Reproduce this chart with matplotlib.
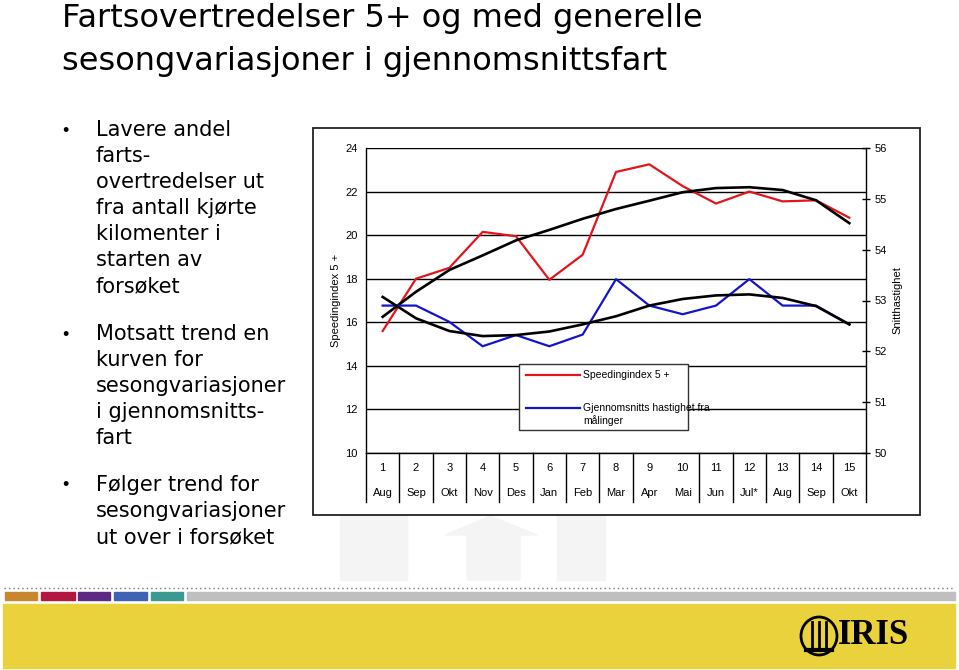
import matplotlib
matplotlib.use("Agg")
import matplotlib.pyplot as plt
from matplotlib.patches import Rectangle, Ellipse, Polygon
from matplotlib.lines import Line2D
import matplotlib.transforms as mtransforms

plt.rcParams['font.family'] = ['Liberation Sans', 'DejaVu Sans']

# data
periods = ['1', '2', '3', '4', '5', '6', '7', '8', '9', '10', '11', '12', '13', '14', '15']
months = ['Aug', 'Sep', 'Okt', 'Nov', 'Des', 'Jan', 'Feb', 'Mar', 'Apr', 'Mai',
          'Jun', 'Jul*', 'Aug', 'Sep', 'Okt']
speeding = [15.6, 18.0, 18.5, 20.15, 19.95, 17.95, 19.1, 22.9, 23.25, 22.25,
            21.45, 22.0, 21.55, 21.6, 20.8]
avg_speed = [52.9, 52.9, 52.58, 52.1, 52.32, 52.1, 52.33, 53.42, 52.9, 52.73,
             52.9, 53.42, 52.9, 52.9, 52.53]
# polynomial trend lines as drawn in the chart (value at each period)
speeding_trend = [16.25, 17.4, 18.4, 19.07, 19.76, 20.24, 20.75, 21.2, 21.58,
                  21.97, 22.16, 22.2, 22.07, 21.6, 20.55]
avg_speed_trend = [53.07, 52.65, 52.4, 52.3, 52.32, 52.39, 52.53, 52.69, 52.9,
                   53.03, 53.1, 53.12, 53.05, 52.89, 52.53]

W, H = 959, 670


def fx(x):
    return x / W


def fy(y):
    return 1 - y / H


fig = plt.figure(figsize=(W / 100, H / 100), dpi=100)
fig.patch.set_facecolor('white')

# title
title_lines = ["Fartsovertredelser 5+ og med generelle",
               "sesongvariasjoner i gjennomsnittsfart"]
for i, line in enumerate(title_lines):
    fig.text(fx(62), fy(27 + i * 43), line, fontsize=23, va='baseline', ha='left',
             family='DejaVu Sans')

# bullets
bullets = [
    (130, ["Lavere andel", "farts-", "overtredelser ut", "fra antall kjørte",
           "kilomenter i", "starten av", "forsøket"]),
    (334, ["Motsatt trend en", "kurven for", "sesongvariasjoner",
           "i gjennomsnitts-", "fart"]),
    (485, ["Følger trend for", "sesongvariasjoner", "ut over i forsøket"]),
]
for y0, lines in bullets:
    fig.text(fx(62), fy(y0 + 1), "•", fontsize=13, va='center', ha='left')
    for j, line in enumerate(lines):
        fig.text(fx(96), fy(y0 + 26 * j), line, fontsize=15, va='center', ha='left',
                 family='DejaVu Sans')

# faint watermark shapes below the chart
wm = '#f4f4f4'
fig.add_artist(Rectangle((fx(340), fy(580)), fx(407) - fx(340), fy(516) - fy(580),
                         transform=fig.transFigure, color=wm, zorder=-2))
fig.add_artist(Polygon([(fx(445), fy(535)), (fx(490), fy(516)), (fx(537), fy(535)),
                        (fx(520), fy(535)), (fx(520), fy(580)), (fx(467), fy(580)),
                        (fx(467), fy(535))],
                       transform=fig.transFigure, color=wm, zorder=-2))
fig.add_artist(Rectangle((fx(557), fy(580)), fx(605) - fx(557), fy(516) - fy(580),
                         transform=fig.transFigure, color=wm, zorder=-2))

# chart frame
fig.add_artist(Rectangle((fx(313), fy(515)), fx(920) - fx(313), fy(128) - fy(515),
                         transform=fig.transFigure, facecolor='white',
                         edgecolor='#222222', lw=1.3, zorder=-1))

ax = fig.add_axes([fx(366), fy(453), fx(866) - fx(366), fy(148) - fy(453)])
ax.set_facecolor('none')
x = list(range(len(periods)))

ax.plot(x, speeding, color='#e3141b', lw=1.6, zorder=3)
ax.plot(x, speeding_trend, color='black', lw=1.9, zorder=4)
ax.set_xlim(-0.5, len(periods) - 0.5)
ax.set_ylim(10, 24)
ax.set_yticks(range(10, 25, 2))
ax.yaxis.grid(True, color='black', lw=1)
ax.set_axisbelow(True)
ax.set_xticks([])
ax.tick_params(axis='y', length=0, pad=6, labelsize=8)
for s in ['top', 'right']:
    ax.spines[s].set_visible(False)
for s in ['left', 'bottom']:
    ax.spines[s].set_linewidth(1)

ax2 = ax.twinx()
ax2.plot(x, avg_speed, color='#1414cc', lw=1.6, zorder=3)
ax2.plot(x, avg_speed_trend, color='black', lw=1.9, zorder=4)
ax2.set_ylim(50, 56)
ax2.set_yticks(range(50, 57))
ax2.tick_params(axis='y', direction='inout', length=6, width=1, pad=3, labelsize=8)
for s in ['top', 'left', 'bottom']:
    ax2.spines[s].set_visible(False)
ax2.spines['right'].set_linewidth(1)

# category axis: number row and month row with separators
trans = mtransforms.blended_transform_factory(ax.transData, ax.transAxes)
for i, (p, m) in enumerate(zip(periods, months)):
    ax.text(i, -0.05, p, transform=trans, ha='center', va='center', fontsize=8)
    ax.text(i, -0.131, m, transform=trans, ha='center', va='center', fontsize=8)
bounds = [-0.5] + [k + 0.5 for k in range(len(periods)) if k != 8]
for b in bounds:
    ax.plot([b, b], [-0.161, 0], transform=trans, color='black', lw=1, clip_on=False)

ax.set_ylabel("Speedingindex 5 +", fontsize=8, labelpad=3)
ax2.set_ylabel("Snitthastighet", fontsize=8, labelpad=4)

# legend box
fig.add_artist(Rectangle((fx(519), fy(430)), fx(688) - fx(519), fy(364) - fy(430),
                         transform=fig.transFigure, facecolor='white',
                         edgecolor='#333333', lw=1, zorder=5))
fig.add_artist(Line2D([fx(526), fx(580)], [fy(375), fy(375)], color='#e3141b',
                      lw=1.6, transform=fig.transFigure, zorder=6))
fig.add_artist(Line2D([fx(526), fx(580)], [fy(408), fy(408)], color='#1414cc',
                      lw=1.6, transform=fig.transFigure, zorder=6))
fig.text(fx(583), fy(375), "Speedingindex 5 +", fontsize=7.5, va='center', zorder=6)
fig.text(fx(583), fy(408), "Gjennomsnitts hastighet fra", fontsize=7.5, va='center', zorder=6)
fig.text(fx(583), fy(421), "målinger", fontsize=7.5, va='center', zorder=6)

# footer
fig.add_artist(Line2D([fx(4), fx(955)], [fy(588), fy(588)], color='#777777', lw=1,
                      ls=(0, (1, 2.2)), transform=fig.transFigure))
blocks = [(5, 37, '#c8862e'), (41, 75, '#b3173f'), (78, 110, '#5c2a83'),
          (114, 147, '#3f63b3'), (151, 183, '#3a9a92'), (187, 955, '#bfbfbf')]
for x0, x1, c in blocks:
    fig.add_artist(Rectangle((fx(x0), fy(600)), fx(x1) - fx(x0), fy(592) - fy(600),
                             transform=fig.transFigure, color=c))
fig.add_artist(Rectangle((fx(3), fy(668)), fx(955) - fx(3), fy(604) - fy(668),
                         transform=fig.transFigure, color='#e9d23b'))

# IRIS logo
fig.add_artist(Ellipse((fx(819), fy(636)), fx(36), fy(0) - fy(38),
                       transform=fig.transFigure, facecolor='none',
                       edgecolor='black', lw=2))
for sx in [812, 819, 826]:
    fig.add_artist(Line2D([fx(sx), fx(sx)], [fy(622), fy(648)], color='black', lw=2,
                          transform=fig.transFigure))
fig.add_artist(Line2D([fx(806), fx(832)], [fy(650), fy(650)], color='black', lw=3,
                      transform=fig.transFigure))
fig.text(fx(838), fy(636), "IRIS", fontsize=25, fontweight='bold',
         family='Liberation Serif', va='center', ha='left')

fig.savefig('out.png', dpi=100)
